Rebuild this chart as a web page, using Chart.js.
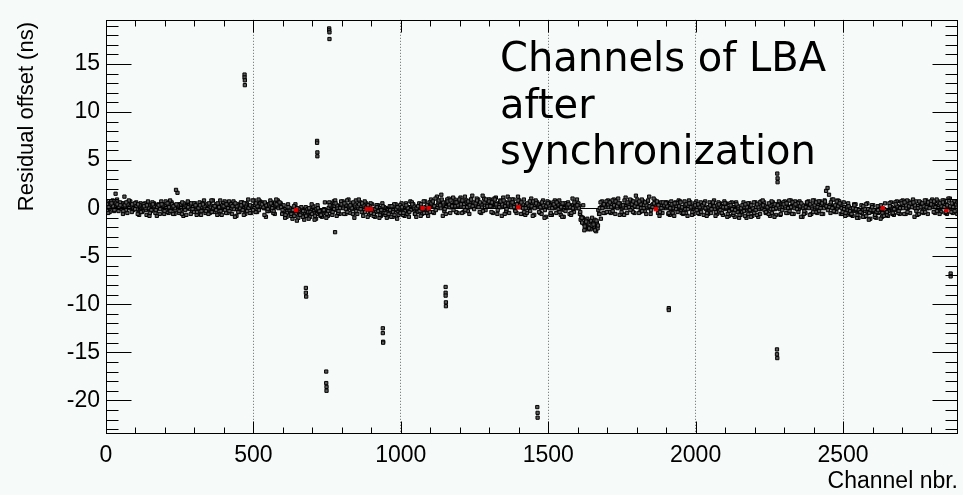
<!DOCTYPE html>
<html lang="en">
<head>
<meta charset="UTF-8">
<title>Channels of LBA after synchronization</title>
<script src="https://cdn.jsdelivr.net/npm/chart.js"></script>
<style>
  html, body { margin: 0; padding: 0; background: #f6faf8; }
</style>
</head>
<body>
<canvas id="myChart" width="963" height="495"></canvas>
<script>
// axes
var xMin = 0, xMax = 2890;
var yMin = -23.5, yMax = 19.6;
var xTickValues = [0, 500, 1000, 1500, 2000, 2500];
var yTickValues = [-20, -15, -10, -5, 0, 5, 10, 15];
var xTitle = 'Channel nbr.';
var yTitle = 'Residual offset (ns)';
var labelLines = ['Channels of LBA', 'after', 'synchronization'];

// main band: one value every 10 channels per row, rows shifted by rowOffsets
var channelStep = 10;
var rowOffsets = [0, 5, 2.5, 7.5, 3.75, 8.75];
var bandRowA = [
  0.3,0.1,0.4,0.2,0.0,0.3,0.5,0.2,0.1,0.3,
  0.1,-0.2,0.0,0.2,-0.1,0.1,0.0,-0.3,0.2,0.1,
  0.2,0.0,-0.1,0.3,0.1,0.4,0.2,-0.1,0.0,0.2,
  -0.1,0.1,0.0,-0.2,0.2,0.1,-0.1,0.0,0.3,-0.2,
  0.1,0.3,0.0,0.2,-0.1,0.1,0.2,0.0,0.3,0.1,
  0.2,0.4,0.1,0.3,0.0,0.2,0.3,0.1,0.2,0.4,
  0.0,-0.2,-0.4,-0.3,-0.5,-0.2,-0.4,-0.1,-0.3,-0.5,
  -0.4,-0.2,-0.5,-0.3,-0.1,-0.4,0.0,0.1,-0.2,0.2,
  0.1,0.2,0.0,0.3,0.1,-0.1,0.2,0.0,-0.2,-0.1,
  -0.2,-0.3,-0.1,-0.4,-0.2,0.0,-0.3,-0.1,-0.2,-0.3,
  -0.1,0.0,-0.2,0.1,-0.1,-0.3,0.0,0.1,-0.2,0.0,
  0.2,0.3,0.1,0.4,0.2,0.5,0.3,0.1,0.4,0.2,
  0.3,0.5,0.2,0.4,0.1,0.3,0.6,0.2,0.4,0.3,
  0.4,0.2,0.3,0.5,0.1,0.3,0.4,0.2,0.5,0.3,
  0.2,0.1,0.3,0.0,0.2,0.4,0.1,0.3,0.2,0.0,
  0.1,0.3,0.0,0.2,-0.1,0.1,0.2,0.0,0.3,0.1,
  0.1,-1.2,-1.6,-1.9,-1.4,-2.0,-1.7,-0.2,0.1,0.2,
  0.2,0.3,0.1,0.4,0.2,0.0,0.3,0.2,0.1,0.3,
  0.3,0.1,0.2,0.4,0.0,0.2,0.3,0.1,0.2,0.0,
  0.0,0.2,-0.1,0.1,0.0,-0.2,0.1,0.0,0.2,-0.1,
  0.1,-0.1,0.0,0.2,-0.2,0.0,0.1,-0.1,0.0,0.2,
  -0.1,0.0,-0.2,0.1,-0.1,-0.3,0.0,-0.2,0.1,-0.1,
  0.0,0.2,-0.1,0.1,-0.2,0.0,0.1,-0.1,0.2,0.0,
  0.1,0.3,0.0,0.2,0.1,-0.1,0.2,0.0,0.1,0.3,
  0.2,0.0,0.3,0.1,0.4,0.2,0.3,0.1,0.0,0.2,
  0.0,-0.1,0.1,-0.2,-0.3,-0.1,-0.4,-0.2,-0.3,-0.1,
  -0.4,-0.2,-0.5,-0.3,-0.1,-0.4,-0.2,0.0,-0.1,0.1,
  0.1,0.2,0.0,0.3,0.1,-0.1,0.2,0.0,0.3,0.1,
  0.2,0.3,0.1,0.0,0.2,0.4,0.1,0.3,0.2
];
var bandRowB = [
  0.0,0.3,0.2,-0.1,0.4,0.1,0.2,0.6,0.0,0.2,
  -0.1,0.2,0.1,-0.2,0.0,0.3,-0.1,0.1,0.0,-0.2,
  0.0,0.3,0.1,-0.2,0.2,0.0,0.1,0.3,-0.1,0.1,
  0.2,-0.1,0.1,0.0,-0.3,0.1,0.2,-0.1,0.0,0.1,
  0.0,0.2,-0.1,0.1,0.3,0.0,-0.2,0.2,0.1,0.0,
  0.3,0.1,0.2,0.0,0.4,0.1,0.2,0.3,0.0,0.1,
  -0.1,-0.3,-0.2,-0.6,-0.3,-0.4,-0.2,-0.6,-0.4,-0.2,
  -0.3,-0.6,-0.2,-0.4,-0.2,0.0,-0.3,0.2,0.0,0.1,
  0.0,0.3,0.1,-0.1,0.2,0.0,0.1,-0.2,0.0,-0.3,
  -0.1,-0.4,-0.2,0.0,-0.3,-0.1,-0.4,-0.2,0.0,-0.1,
  0.0,-0.2,0.1,-0.1,0.0,-0.2,0.2,-0.1,0.0,0.1,
  0.4,0.1,0.3,0.0,0.4,0.2,0.1,0.3,0.2,0.5,
  0.2,0.4,0.1,0.5,0.3,0.2,0.4,0.1,0.3,0.5,
  0.3,0.5,0.2,0.4,0.2,0.6,0.3,0.1,0.3,0.4,
  0.3,0.0,0.2,0.4,0.1,0.2,0.3,0.0,0.1,0.3,
  0.0,0.2,0.1,-0.1,0.3,0.0,0.1,0.2,-0.1,0.0,
  0.2,-1.5,-1.8,-2.2,-1.3,-1.9,-1.5,0.0,0.2,0.1,
  0.1,0.4,0.2,0.0,0.3,0.1,0.2,0.4,0.0,0.2,
  0.2,0.0,0.3,0.1,0.2,0.4,0.1,0.0,0.3,0.2,
  0.1,-0.1,0.0,0.2,0.1,0.0,-0.1,0.2,0.0,0.1,
  0.0,0.2,0.1,-0.1,0.0,0.2,-0.1,0.1,0.2,0.0,
  0.0,-0.2,0.1,-0.1,0.0,-0.2,0.1,0.0,-0.3,0.0,
  0.1,-0.1,0.0,0.2,0.0,-0.1,0.1,0.2,-0.1,0.1,
  0.0,0.1,0.2,0.0,0.3,0.1,0.0,0.2,0.1,0.0,
  0.1,0.3,0.2,0.0,0.2,0.3,0.1,0.2,0.3,0.0,
  0.1,-0.2,0.0,-0.1,-0.2,-0.4,-0.2,-0.3,-0.1,-0.3,
  -0.3,-0.5,-0.2,-0.4,-0.3,-0.2,0.0,-0.2,0.1,0.0,
  0.2,0.0,0.1,0.2,0.0,0.2,0.1,0.3,0.0,0.2,
  0.1,0.2,0.3,0.1,0.3,0.2,0.0,0.2,0.1
];
var bandRowC = [
  0.6,-0.4,0.8,1.5,-0.3,0.5,1.2,-0.5,0.7,-0.2,
  0.6,-0.7,-0.4,0.5,0.7,-0.3,0.5,-0.8,-0.6,0.4,
  0.7,-0.5,0.6,-0.6,1.6,0.4,-0.8,-0.7,0.5,-0.3,
  0.5,-0.6,-0.7,0.8,0.4,-0.5,0.8,0.4,-0.6,-0.7,
  0.7,-0.5,0.5,0.7,-0.8,-0.4,0.6,-0.6,0.9,-0.5,
  0.8,-0.4,0.7,0.5,-0.9,-0.3,0.6,-0.6,0.8,0.5,
  0.3,-0.9,-0.2,-1.1,0.4,-1.0,0.1,-1.2,-0.7,-0.9,
  0.2,-1.1,-0.4,-0.9,0.6,-0.8,0.5,0.7,-0.8,-0.6,
  0.7,-0.6,0.9,0.5,-1.0,-0.6,0.6,-0.8,0.5,-0.7,
  0.4,-0.9,0.3,-0.8,-0.5,-1.0,0.2,-0.9,0.4,-0.7,
  0.5,-0.8,-0.6,0.7,0.4,-0.9,0.5,-0.6,0.7,-0.8,
  0.9,-0.5,1.2,0.4,-0.8,-0.6,1.0,0.3,0.9,-0.5,
  1.1,-0.4,0.8,-0.6,1.3,0.3,0.9,-0.5,1.0,0.4,
  0.9,-0.5,1.1,0.3,-0.8,-0.6,1.2,0.4,0.9,-0.5,
  0.8,-0.6,-0.7,0.4,1.0,-0.7,0.6,-0.5,0.8,-0.9,
  0.6,-0.7,0.8,0.5,-0.7,-0.9,0.5,-0.6,1.0,0.4,
  0.5,-0.9,-2.3,-1.1,-2.1,-1.6,-2.4,-0.6,0.7,-0.5,
  0.8,-0.5,0.9,0.4,-0.7,-0.6,1.1,0.3,0.8,-0.5,
  0.9,-0.4,0.7,-0.6,1.2,0.3,0.8,-0.5,0.6,0.4,
  0.6,-0.7,-0.5,0.6,0.8,-0.5,0.7,-0.8,0.6,-0.6,
  0.7,-0.6,0.5,0.7,-0.6,-0.5,0.8,-0.6,0.5,-0.7,
  0.5,-0.8,0.6,-0.9,-0.4,-0.7,0.6,-1.0,0.5,-0.8,
  0.6,-0.9,0.7,0.6,-0.5,-0.8,0.6,-0.7,0.7,0.5,
  0.7,-0.5,0.8,-0.6,0.6,0.7,-0.9,-0.5,0.7,-0.6,
  0.8,-0.5,0.7,-0.6,1.8,1.4,0.9,-0.4,0.8,-0.6,
  0.6,-0.7,-0.5,-0.8,0.4,-1.0,0.3,-0.9,0.5,-1.1,
  0.3,-1.0,-0.4,-0.9,0.5,-0.8,0.6,-0.7,0.7,-0.6,
  0.8,-0.6,0.7,0.5,-0.9,-0.7,0.6,-0.5,0.8,0.6,
  0.9,-0.5,0.7,-0.4,0.8,-0.6,1.0,-0.5,0.7
];
var bandRowD = [
  -0.5,0.7,-0.3,0.9,0.6,-0.6,-0.2,0.8,-0.4,0.5,
  -0.6,0.5,0.4,-0.7,-0.8,0.6,-0.5,0.4,0.7,-0.6,
  -0.4,0.8,-0.6,1.9,-0.5,-0.6,0.3,0.7,-0.6,0.5,
  -0.7,0.6,0.5,-0.5,-0.6,0.8,-0.4,-0.7,0.8,0.5,
  -0.5,0.7,-0.6,-0.9,0.4,0.6,-0.7,0.5,-0.5,0.8,
  -0.4,0.9,0.6,-0.7,-0.3,0.8,-0.5,0.9,0.4,-0.6,
  -1.0,0.4,-0.8,0.2,-1.3,-0.3,-0.9,0.1,-1.1,0.4,
  -1.2,0.3,-0.8,-0.5,-1.0,0.6,-0.7,0.8,-0.5,0.7,
  -0.6,0.8,-0.5,-0.6,0.8,0.9,-0.4,0.7,-0.9,0.5,
  -0.8,0.3,-1.0,0.5,-0.7,-0.2,-0.9,0.4,-1.1,0.3,
  -0.7,0.5,-0.9,0.6,-0.6,-0.4,-0.8,0.7,-0.5,0.6,
  -0.4,1.0,0.6,1.4,-0.3,0.9,-0.5,1.1,-0.4,0.8,
  -0.5,1.2,-0.3,0.9,0.6,1.0,-0.4,1.3,-0.2,0.9,
  -0.4,1.0,-0.6,0.8,1.1,-0.3,-0.5,0.9,-0.2,1.2,
  -0.6,0.9,-0.5,0.7,-0.8,0.8,0.4,-0.6,-1.0,0.7,
  -0.7,0.6,-0.5,0.8,-0.9,0.5,0.6,-0.7,-0.4,0.9,
  -0.6,-1.0,-1.3,-2.0,-1.8,-1.2,-2.1,0.6,-0.5,0.7,
  -0.4,0.8,-0.6,1.0,0.3,-0.7,-0.5,0.9,-0.4,1.3,
  -0.5,0.9,-0.3,0.7,-0.6,1.0,0.4,-0.8,-0.5,0.6,
  -0.6,0.7,-0.8,0.5,0.7,-0.6,-0.5,0.8,-0.7,0.5,
  -0.5,0.6,-0.7,-0.8,0.6,0.5,-0.8,0.6,-0.5,0.7,
  -0.9,0.5,-0.7,0.6,-1.0,-0.4,-0.8,0.5,-0.9,0.6,
  -0.7,0.6,0.8,-0.5,-0.6,0.7,-0.9,0.4,-0.7,0.6,
  -0.5,0.8,-0.6,0.7,0.5,-0.9,-0.6,0.6,-0.7,0.8,
  -0.4,0.7,-0.6,0.8,2.1,-0.5,0.9,-0.4,0.7,-0.6,
  -0.8,0.5,-0.7,0.4,-1.0,-0.3,-0.9,0.4,-1.2,0.3,
  -0.9,0.2,-1.1,-0.4,-0.7,0.5,-0.6,0.6,-0.5,0.7,
  -0.6,0.8,-0.5,0.9,0.7,-0.6,-0.4,0.8,-0.6,0.7,
  -0.4,0.9,-0.6,0.8,-0.5,1.0,-0.4,0.7,-0.6
];
var bandRowE = [
  0.4,0.0,0.2,0.5,0.1,-0.1,0.3,0.4,0.2,0.0,
  0.2,0.3,-0.3,0.0,0.3,-0.2,0.2,0.1,-0.1,0.3,
  -0.2,0.1,0.4,0.0,0.3,-0.2,0.5,0.2,0.3,-0.1,
  0.3,0.0,-0.3,0.2,-0.1,0.4,0.0,-0.2,0.1,0.3,
  -0.2,0.0,0.4,-0.1,0.2,0.3,-0.2,0.4,0.0,0.2,
  0.0,0.2,0.5,0.1,0.3,0.4,0.0,0.5,0.3,0.1,
  -0.3,-0.5,0.0,-0.2,-0.6,-0.1,-0.5,-0.3,-0.1,-0.4,
  -0.5,-0.1,-0.3,-0.6,-0.2,-0.3,0.2,-0.1,0.3,0.0,
  0.3,-0.1,0.2,0.0,0.4,0.2,-0.1,0.3,0.1,0.2,
  -0.4,-0.1,-0.3,-0.2,0.1,-0.4,-0.2,-0.4,-0.1,0.0,
  0.1,-0.3,0.0,-0.2,0.2,0.0,-0.3,-0.1,0.1,-0.2,
  0.5,0.2,0.0,0.3,0.6,0.1,0.4,0.2,0.6,0.3,
  0.4,0.1,0.6,0.3,0.2,0.5,0.1,0.4,0.6,0.2,
  0.2,0.6,0.4,0.1,0.4,0.2,0.5,0.6,0.1,0.4,
  0.1,0.4,0.0,0.3,0.2,0.0,0.4,0.1,0.3,0.2,
  0.3,0.0,0.2,0.4,0.1,-0.2,0.3,0.1,0.0,0.2,
  0.0,-1.0,-1.9,-1.5,-2.2,-1.7,-1.3,-0.6,0.0,0.3,
  0.4,0.1,0.3,0.2,0.5,0.3,0.0,0.1,0.4,0.2,
  0.1,0.4,0.0,0.3,0.2,0.1,0.4,0.3,0.0,0.3,
  0.2,0.0,0.3,-0.1,0.2,0.1,0.3,-0.1,0.1,0.2,
  -0.2,0.1,0.3,0.0,0.1,-0.1,0.2,0.3,-0.2,0.1,
  0.1,-0.3,-0.1,-0.2,0.2,0.0,-0.3,0.1,-0.2,0.0,
  -0.2,0.1,0.2,-0.2,0.1,0.3,-0.1,0.0,0.1,-0.2,
  0.2,0.0,0.1,0.3,-0.1,0.2,0.3,0.1,0.0,0.2,
  0.3,0.1,0.0,0.4,0.2,0.1,0.0,0.3,0.2,0.4,
  -0.1,0.1,-0.3,0.0,-0.1,-0.2,-0.5,-0.1,-0.4,-0.2,
  -0.2,-0.4,-0.1,-0.5,-0.2,-0.3,0.1,-0.1,0.2,0.0,
  0.0,0.3,0.2,0.1,0.3,0.0,0.1,0.2,0.1,0.0,
  0.3,0.1,0.0,0.2,0.1,0.3,0.2,0.1,0.4
];
var bandRowF = [
  0.1,0.5,-0.2,0.4,0.3,-0.3,0.6,0.0,0.4,-0.1,
  0.4,-0.4,0.2,0.3,-0.5,0.4,-0.2,0.3,0.4,-0.3,
  0.5,-0.3,0.2,0.4,-0.3,0.6,-0.2,0.1,0.5,-0.4,
  -0.4,0.3,0.4,-0.3,0.5,-0.4,0.2,0.5,-0.3,0.2,
  0.4,-0.3,0.2,0.5,-0.4,0.3,0.5,-0.3,0.3,-0.2,
  0.5,-0.2,0.4,0.6,-0.1,0.5,-0.3,0.4,0.6,-0.2,
  -0.7,0.1,-0.6,-0.8,0.0,-0.7,-0.3,-0.8,0.0,-0.6,
  -0.8,0.0,-0.7,-0.2,-0.6,0.3,-0.4,0.5,-0.3,0.4,
  0.5,-0.4,0.3,0.6,-0.3,0.4,0.5,-0.4,0.3,-0.5,
  -0.6,0.1,-0.7,0.2,-0.5,-0.6,0.2,-0.7,0.1,-0.5,
  -0.5,0.3,-0.4,0.4,-0.6,0.2,0.4,-0.5,0.3,-0.4,
  0.7,-0.2,0.8,0.9,-0.1,0.7,0.8,-0.2,0.6,0.9,
  0.8,-0.2,0.7,0.9,-0.1,0.8,0.6,-0.3,0.9,0.7,
  0.6,0.9,-0.2,0.7,0.8,-0.1,0.9,0.6,-0.3,0.8,
  0.6,-0.4,0.5,-0.3,0.7,0.5,-0.4,0.6,-0.2,0.5,
  -0.5,0.4,0.6,-0.4,0.5,-0.3,0.4,-0.5,0.6,0.3,
  -0.4,0.3,-1.4,-2.1,-1.0,-2.3,-1.8,-1.1,0.4,-0.4,
  0.6,-0.3,0.7,0.5,-0.4,0.8,0.6,-0.2,0.7,0.5,
  0.7,-0.3,0.6,0.8,-0.2,0.5,0.7,-0.4,0.6,0.5,
  -0.5,0.4,0.5,-0.4,0.6,-0.5,0.4,0.5,-0.4,0.3,
  0.4,-0.4,0.5,-0.5,0.3,0.6,-0.4,0.4,-0.5,0.5,
  -0.6,0.3,-0.5,0.4,-0.7,0.3,0.4,-0.6,0.3,-0.5,
  0.4,-0.6,0.3,-0.4,0.5,-0.5,0.4,0.3,-0.6,0.4,
  0.5,-0.3,0.6,0.4,-0.4,0.5,-0.3,0.6,0.4,-0.4,
  0.6,-0.3,0.5,0.7,-0.2,0.6,-0.3,0.7,0.5,-0.4,
  -0.5,0.2,-0.6,0.3,-0.7,-0.4,0.2,-0.8,-0.5,0.1,
  -0.7,-0.2,0.3,-0.8,-0.4,0.2,-0.5,0.4,-0.3,0.5,
  0.6,-0.4,0.5,0.6,-0.3,0.7,0.5,-0.4,0.6,0.4,
  0.7,-0.3,0.5,0.6,-0.4,0.8,0.5,-0.3,0.6
];

// badly synchronized channels, far from the band
var outlierChannels = [470, 470, 471, 471, 716, 716, 717, 717, 757, 757, 758, 758, 777,
  678, 678, 679, 747, 747, 748, 748, 939, 939, 940, 940, 1152, 1152, 1152, 1153, 1153,
  1463, 1464, 1464, 1909, 1909, 2276, 2276, 2277, 2277, 2278, 2278, 2865, 2865];
var outlierValues = [13.9, 13.6, 13.3, 12.8, 7.0, 6.8, 5.8, 5.4, 18.7, 18.5, 18.3, 17.6, -2.5,
  -8.3, -8.8, -9.2, -17.0, -18.2, -18.6, -19.0, -12.5, -13.0, -13.9, -14.0, -8.2, -8.8, -9.1, -9.8, -10.2,
  -20.7, -21.3, -21.8, -10.4, -10.6, -14.7, -15.2, -15.6, 3.6, 3.1, 2.7, -6.8, -7.1];

// channels marked in red
var redChannels = [645, 885, 899, 1074, 1095, 1399, 1865, 2635, 2851];
var redValues = [-0.2, -0.1, -0.1, 0.0, 0.0, 0.1, -0.1, 0.0, -0.2];

var bandPoints = [];
[bandRowA, bandRowB, bandRowC, bandRowD, bandRowE, bandRowF].forEach(function (row, r) {
    for (var i = 0; i < row.length; i++) {
        bandPoints.push({ x: i * channelStep + rowOffsets[r], y: row[i] });
    }
});
for (var i = 0; i < outlierChannels.length; i++) {
    bandPoints.push({ x: outlierChannels[i], y: outlierValues[i] });
}
var redPoints = redChannels.map(function (c, i) { return { x: c, y: redValues[i] }; });

var rootFrame = {
    id: 'rootFrame',
    beforeDraw: function (chart) {
        var ctx = chart.ctx;
        ctx.save();
        ctx.fillStyle = '#f6faf8';
        ctx.fillRect(0, 0, chart.width, chart.height);
        ctx.restore();
    },
    afterDatasetsDraw: function (chart) {
        var ctx = chart.ctx, a = chart.chartArea;
        var xs = chart.scales.x, ys = chart.scales.y;
        ctx.save();
        ctx.strokeStyle = '#000';
        ctx.lineWidth = 1;
        var l = Math.round(a.left) + 0.5, r = Math.round(a.right) - 0.5;
        var t = Math.round(a.top) + 0.5, b = Math.round(a.bottom) - 0.5;
        ctx.strokeRect(l, t, r - l, b - t);
        ctx.beginPath();
        for (var c = 0; c <= xMax; c += 100) {
            var px = Math.round(xs.getPixelForValue(c)) + 0.5;
            var len = c % 500 === 0 ? 12 : 6;
            ctx.moveTo(px, b); ctx.lineTo(px, b - len);
            ctx.moveTo(px, t); ctx.lineTo(px, t + len);
        }
        for (var v = Math.ceil(yMin); v <= yMax; v += 1) {
            var py = Math.round(ys.getPixelForValue(v)) + 0.5;
            var ylen = v % 5 === 0 ? 25 : 12;
            ctx.moveTo(l, py); ctx.lineTo(l + ylen, py);
            ctx.moveTo(r, py); ctx.lineTo(r - ylen, py);
        }
        ctx.stroke();

        ctx.fillStyle = '#000';
        ctx.font = '23px "Liberation Sans", Arial, sans-serif';
        ctx.textAlign = 'right';
        ctx.textBaseline = 'alphabetic';
        ctx.fillText(xTitle, 958, 488);
        ctx.font = '22px "Liberation Sans", Arial, sans-serif';
        ctx.save();
        ctx.translate(33, 22);
        ctx.rotate(-Math.PI / 2);
        ctx.fillText(yTitle, 0, 0);
        ctx.restore();

        ctx.font = '40px "DejaVu Sans"';
        ctx.textAlign = 'left';
        for (var k = 0; k < labelLines.length; k++) {
            ctx.fillText(labelLines[k], 500, 71 + k * 46.5);
        }
        ctx.restore();
    }
};

var ctx = document.getElementById('myChart').getContext('2d');
var myChart = new Chart(ctx, {
    type: 'scatter',
    data: {
        datasets: [
            {
                label: 'red',
                data: redPoints,
                pointStyle: 'rect',
                pointRadius: 2.4,
                backgroundColor: '#e00000',
                borderColor: '#e00000',
                borderWidth: 1,
            },
            {
                label: 'channels',
                data: bandPoints,
                pointStyle: 'rect',
                pointRadius: 2.3,
                backgroundColor: '#5a5a5a',
                borderColor: '#000000',
                borderWidth: 1,
            },
        ],
    },
    options: {
        responsive: false,
        animation: false,
        events: [],
        layout: { padding: { top: 12, right: 1, left: 0, bottom: 0 } },
        plugins: { legend: { display: false }, tooltip: { enabled: false } },
        scales: {
            x: {
                type: 'linear',
                min: xMin,
                max: xMax,
                afterFit: function (s) { s.height = 61; },
                afterBuildTicks: function (s) {
                    s.ticks = xTickValues.map(function (v) { return { value: v }; });
                },
                border: { display: false, dash: [1, 2] },
                grid: {
                    drawTicks: false,
                    color: function (c) { return c.tick && c.tick.value === 0 ? 'rgba(0,0,0,0)' : '#666666'; },
                    lineWidth: 1,
                },
                ticks: {
                    padding: 8,
                    maxRotation: 0,
                    color: '#000',
                    font: { family: '"Liberation Sans", Arial, sans-serif', size: 23 },
                    callback: function (v) { return String(v); },
                },
            },
            y: {
                type: 'linear',
                min: yMin,
                max: yMax,
                afterFit: function (s) { s.width = 106; },
                afterBuildTicks: function (s) {
                    s.ticks = yTickValues.map(function (v) { return { value: v }; });
                },
                border: { display: false },
                grid: {
                    drawTicks: false,
                    color: function (c) { return c.tick && c.tick.value === 0 ? '#000000' : 'rgba(0,0,0,0)'; },
                    lineWidth: 1,
                },
                ticks: {
                    padding: 6,
                    color: '#000',
                    font: { family: '"Liberation Sans", Arial, sans-serif', size: 23 },
                    callback: function (v) { return String(v); },
                },
            },
        },
    },
    plugins: [rootFrame],
});
</script>
</body>
</html>
